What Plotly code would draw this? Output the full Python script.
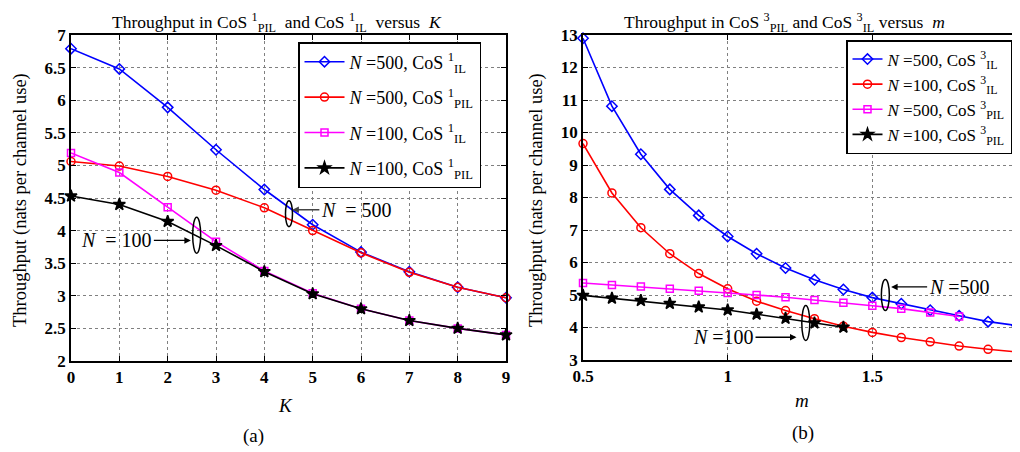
import plotly.graph_objects as go

# ---- data: panel (a) ----
K = [0, 1, 2, 3, 4, 5, 6, 7, 8, 9]
a_n500_il = [6.79, 6.48, 5.89, 5.24, 4.63, 4.09, 3.67, 3.37, 3.13, 2.97]
a_n500_pil = [5.06, 4.99, 4.83, 4.62, 4.35, 4.00, 3.66, 3.36, 3.13, 2.97]
a_n100_il = [5.19, 4.89, 4.36, 3.83, 3.38, 3.04, 2.80, 2.62, 2.50, 2.40]
a_n100_pil = [4.53, 4.40, 4.14, 3.77, 3.37, 3.03, 2.80, 2.62, 2.50, 2.40]

# ---- data: panel (b) ----
m = [0.5, 0.6, 0.7, 0.8, 0.9, 1.0, 1.1, 1.2, 1.3, 1.4, 1.5, 1.6, 1.7, 1.8, 1.9, 2.0]
b_n500_il = [12.9, 10.81, 9.33, 8.25, 7.45, 6.80, 6.27, 5.83, 5.47, 5.17, 4.92, 4.73, 4.53, 4.36, 4.18, 4.06]
b_n100_il = [9.66, 8.14, 7.07, 6.27, 5.66, 5.19, 4.81, 4.52, 4.27, 4.04, 3.85, 3.69, 3.56, 3.43, 3.33, 3.25]
m_pil500 = m[:14]
b_n500_pil = [5.37, 5.31, 5.26, 5.19, 5.13, 5.06, 5.00, 4.93, 4.85, 4.76, 4.67, 4.58, 4.46, 4.34]
m_pil100 = m[:10]
b_n100_pil = [4.99, 4.90, 4.83, 4.74, 4.63, 4.54, 4.41, 4.28, 4.14, 4.01]

FONT = "Liberation Serif"
BLUE, RED, MAG, BLK = "#0000FF", "#FF0000", "#FF00FF", "#000000"

fig = go.Figure()

def add(x, y, name, color, symbol, xa, ya, legend, group, msize=7):
    fig.add_trace(go.Scatter(
        x=x, y=y, name=name, mode="lines+markers",
        line=dict(color=color, width=1.6),
        marker=dict(symbol=symbol, size=msize, color=color,
                    line=dict(color=color, width=1.5)),
        xaxis=xa, yaxis=ya, legend=legend, legendgroup=group, cliponaxis=False))

add(K, a_n500_il, "<i>N</i> =500, CoS <sup>1</sup><sub>IL</sub>", BLUE, "diamond-open", "x", "y", "legend", "a1", 8)
add(K, a_n500_pil, "<i>N</i> =500, CoS <sup>1</sup><sub>PIL</sub>", RED, "circle-open", "x", "y", "legend", "a2", 8)
add(K, a_n100_il, "<i>N</i> =100, CoS <sup>1</sup><sub>IL</sub>", MAG, "square-open", "x", "y", "legend", "a3", 7)
add(K, a_n100_pil, "<i>N</i> =100, CoS <sup>1</sup><sub>PIL</sub>", BLK, "star", "x", "y", "legend", "a4", 9)

add(m, b_n500_il, "<i>N</i> =500, CoS <sup>3</sup><sub>IL</sub>", BLUE, "diamond-open", "x2", "y2", "legend2", "b1", 8)
add(m, b_n100_il, "<i>N</i> =100, CoS <sup>3</sup><sub>IL</sub>", RED, "circle-open", "x2", "y2", "legend2", "b2", 8)
add(m_pil500, b_n500_pil, "<i>N</i> =500, CoS <sup>3</sup><sub>PIL</sub>", MAG, "square-open", "x2", "y2", "legend2", "b3", 7)
add(m_pil100, b_n100_pil, "<i>N</i> =100, CoS <sup>3</sup><sub>PIL</sub>", BLK, "star", "x2", "y2", "legend2", "b4", 9)

W, H = 1020, 452
OFF = 8  # page body margin offset
def px(x): return (x - OFF) / W
def py(y): return 1 - (y - OFF) / H

axis_common = dict(
    showline=True, linecolor="black", linewidth=1.5, mirror="ticks",
    ticks="inside", ticklen=5, tickcolor="black",
    showgrid=True, gridcolor="#808080", griddash="dot", gridwidth=1,
    zeroline=False, automargin=False,
    tickfont=dict(family=FONT, size=17, color="black", weight="bold"),
)

fig.update_layout(
    template="none",
    width=W, height=H,
    margin=dict(l=0, r=0, t=0, b=0, pad=0, autoexpand=False),
    paper_bgcolor="white", plot_bgcolor="white",
    font=dict(family=FONT, color="black"),
    xaxis=dict(domain=[px(71), px(506)], range=[0, 9], dtick=1, anchor="y", **axis_common),
    yaxis=dict(domain=[py(361), py(35)], range=[2, 7], dtick=0.5, anchor="x", **axis_common),
    xaxis2=dict(domain=[px(583), px(1017)], range=[0.5, 2], dtick=0.5, anchor="y2", **axis_common),
    yaxis2=dict(domain=[py(360), py(35)], range=[3, 13], dtick=1, anchor="x2", **axis_common),
    legend=dict(x=px(298), y=py(42), xanchor="left", yanchor="top",
                bgcolor="white", bordercolor="black", borderwidth=1.5,
                font=dict(family=FONT, size=18, color="black"),
                tracegroupgap=9, itemwidth=40),
    legend2=dict(x=px(1012), y=py(40), xanchor="right", yanchor="top",
                 bgcolor="white", bordercolor="black", borderwidth=1.5,
                 font=dict(family=FONT, size=17, color="black"),
                 tracegroupgap=0, itemwidth=30),
    showlegend=True,
)

def pann(text, x, y, size=18, angle=0):
    return dict(text=text, x=px(x), y=py(y), xref="paper", yref="paper", showarrow=False,
                xanchor="center", yanchor="middle", textangle=angle,
                font=dict(family=FONT, size=size, color="black"))

ann = [
    pann("Throughput in CoS <sup>1</sup><sub>PIL</sub>  and CoS <sup>1</sup><sub>IL</sub>  versus  <i>K</i>", 277, 22, 17.5),
    pann("Throughput in CoS <sup>3</sup><sub>PIL</sub> and CoS <sup>3</sup><sub>IL</sub> versus  <i>m</i>", 784, 22, 17.5),
    pann("<i>K</i>", 285, 405, 19),
    pann("<i>m</i>", 802, 400, 19),
    pann("(a)", 253, 436, 19),
    pann("(b)", 803, 433, 19),
    pann("Throughput (nats per channel use)", 20, 200, 18.5, -90),
    pann("Throughput (nats per channel use)", 536, 200, 18.5, -90),
]

def arr(text, x, y, xr, yr, ax, color="black"):
    return dict(text=text, x=x, y=y, xref=xr, yref=yr, ax=ax, ay=0,
                showarrow=True, arrowhead=2, arrowsize=1, arrowwidth=1.3, arrowcolor=color,
                font=dict(family=FONT, size=20, color="black"))

ann += [
    arr("<i>N</i>  = 500", 4.58, 4.32, "x", "y", 64, "#444"),
    arr("<i>N</i>  = 100", 2.48, 3.85, "x", "y", -74),
    arr("<i>N</i> =500", 1.565, 5.25, "x2", "y2", 68),
    arr("<i>N</i> =100", 1.238, 3.7, "x2", "y2", -73),
]
fig.update_layout(annotations=ann)

def ell(xr, yr, cx, cy, w, h):
    return dict(type="circle", xref=xr, yref=yr, xsizemode="pixel", ysizemode="pixel",
                xanchor=cx, yanchor=cy, x0=-w / 2, x1=w / 2, y0=-h / 2, y1=h / 2,
                line=dict(color="black", width=1.5))

fig.update_layout(shapes=[
    ell("x", "y", 4.51, 4.26, 7, 26),
    ell("x", "y", 2.6, 3.93, 8, 36),
    ell("x2", "y2", 1.545, 5.0, 8, 31),
    ell("x2", "y2", 1.27, 4.14, 8, 35),
])

fig.write_html("out.html")
